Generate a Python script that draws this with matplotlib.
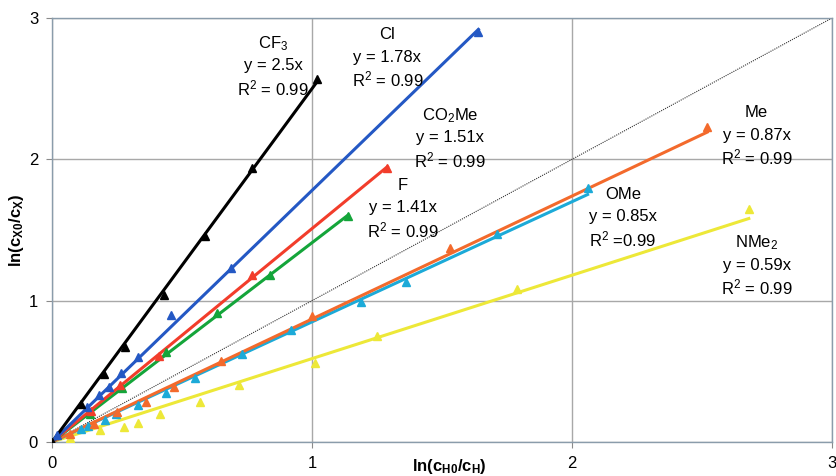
import matplotlib
matplotlib.use("Agg")
import matplotlib.pyplot as plt
import numpy as np

plt.rcParams['font.family'] = ['Liberation Sans', 'DejaVu Sans']
plt.rcParams['mathtext.fontset'] = 'custom'
plt.rcParams['mathtext.rm'] = 'Liberation Sans'
plt.rcParams['mathtext.it'] = 'Liberation Sans'
plt.rcParams['mathtext.bf'] = 'Liberation Sans:bold'

# ---- data ----
series_names = ["CF$_3$", "Cl", "CO$_2$Me", "F", "Me", "OMe", "NMe$_2$"]
slopes = [2.5, 1.78, 1.51, 1.41, 0.87, 0.85, 0.59]
r2_texts = ["R$^2$ = 0.99", "R$^2$ = 0.99", "R$^2$ = 0.99", "R$^2$ = 0.99",
            "R$^2$ = 0.99", "R$^2$ =0.99", "R$^2$ = 0.99"]

cf3_x = [0, 0.11, 0.20, 0.28, 0.43, 0.59, 0.77, 1.02]
cf3_y = [0, 0.27, 0.48, 0.67, 1.04, 1.46, 1.94, 2.57]

cl_x = [0, 0.02, 0.135, 0.18, 0.22, 0.265, 0.33, 0.457, 0.69, 1.64]
cl_y = [0, 0.05, 0.25, 0.33, 0.39, 0.49, 0.60, 0.90, 1.23, 2.90]

co2me_x = [0, 0.15, 0.26, 0.41, 0.77, 1.29]
co2me_y = [0, 0.22, 0.40, 0.61, 1.18, 1.94]

f_x = [0, 0.147, 0.27, 0.44, 0.635, 0.84, 1.14]
f_y = [0, 0.20, 0.38, 0.64, 0.91, 1.18, 1.60]

me_x = [0, 0.07, 0.16, 0.25, 0.36, 0.47, 0.65, 1.0, 1.53, 2.52]
me_y = [0, 0.06, 0.13, 0.21, 0.28, 0.39, 0.57, 0.89, 1.37, 2.23]

ome_x = [0, 0.11, 0.14, 0.205, 0.245, 0.33, 0.44, 0.55, 0.73, 0.92, 1.19, 1.36, 1.71, 2.06]
ome_y = [0, 0.09, 0.11, 0.156, 0.20, 0.26, 0.35, 0.45, 0.62, 0.79, 0.99, 1.13, 1.47, 1.80]

nme2_x = [0, 0.07, 0.185, 0.277, 0.33, 0.415, 0.57, 0.72, 1.01, 1.25, 1.79, 2.68]
nme2_y = [0, 0.03, 0.085, 0.106, 0.135, 0.20, 0.28, 0.40, 0.56, 0.75, 1.08, 1.65]

xs = [cf3_x, cl_x, co2me_x, f_x, me_x, ome_x, nme2_x]
ys = [cf3_y, cl_y, co2me_y, f_y, me_y, ome_y, nme2_y]

colors = ["#000000", "#2458c4", "#f23d2b", "#14a53a", "#f36a2c", "#1caad8", "#ede838"]

# label anchor positions (data coords: center x, top-line y)
label_pos = [(0.85, 2.82), (1.29, 2.88), (1.53, 2.31), (1.35, 1.815),
             (2.71, 2.33), (2.196, 1.752), (2.71, 1.41)]

ticks = [0, 1, 2, 3]

fig = plt.figure(figsize=(8.37, 4.76), dpi=100)
ax = fig.add_axes([52/837, 34/476, 780/837, 424/476])
ax.set_xlim(0, 3)
ax.set_ylim(0, 3)
ax.set_xticks(ticks)
ax.set_yticks(ticks)
ax.set_xticklabels([str(t) for t in ticks], fontsize=12)
ax.set_yticklabels([str(t) for t in ticks], fontsize=12)
ax.grid(True, color="#a8a8a8", linewidth=1.0)
ax.set_axisbelow(True)
for s in ax.spines.values():
    s.set_color("#8a9cab")
    s.set_linewidth(1.0)
ax.tick_params(axis='both', length=4, color="#8a8a8a", pad=6)

# diagonal y = x
ax.plot([0, 3], [0, 3], color="#333333", linestyle=(0, (1, 1)), linewidth=0.8, zorder=2)

order = [6, 5, 4, 3, 2, 1, 0]
for i in order:
    x = np.array(xs[i])
    y = np.array(ys[i])
    xf = np.array([0, x.max()])
    ax.plot(xf, slopes[i] * xf, color=colors[i], linewidth=2.2, zorder=3)
    ax.plot(x, y, linestyle="none", marker="^", markersize=5.5,
            color=colors[i], zorder=4)

dy = 0.158
for i in range(len(series_names)):
    cx, cy = label_pos[i]
    ax.text(cx, cy, series_names[i], ha="center", va="center", fontsize=12, zorder=5)
    ax.text(cx, cy - dy, "y = %gx" % slopes[i], ha="center", va="center", fontsize=12, zorder=5)
    ax.text(cx, cy - 2 * dy, r2_texts[i], ha="center", va="center", fontsize=12, zorder=5)

ax.set_xlabel(r"ln(c$_{\mathbf{H0}}$/c$_{\mathbf{H}}$)", fontsize=12, fontweight="bold")
ax.xaxis.set_label_coords(0.51, -0.035)
ax.set_ylabel(r"ln(c$_{\mathbf{X0}}$/c$_{\mathbf{X}}$)", fontsize=12, fontweight="bold")
ax.yaxis.set_label_coords(-0.033, 0.5)

fig.savefig("out.png", dpi=100)
